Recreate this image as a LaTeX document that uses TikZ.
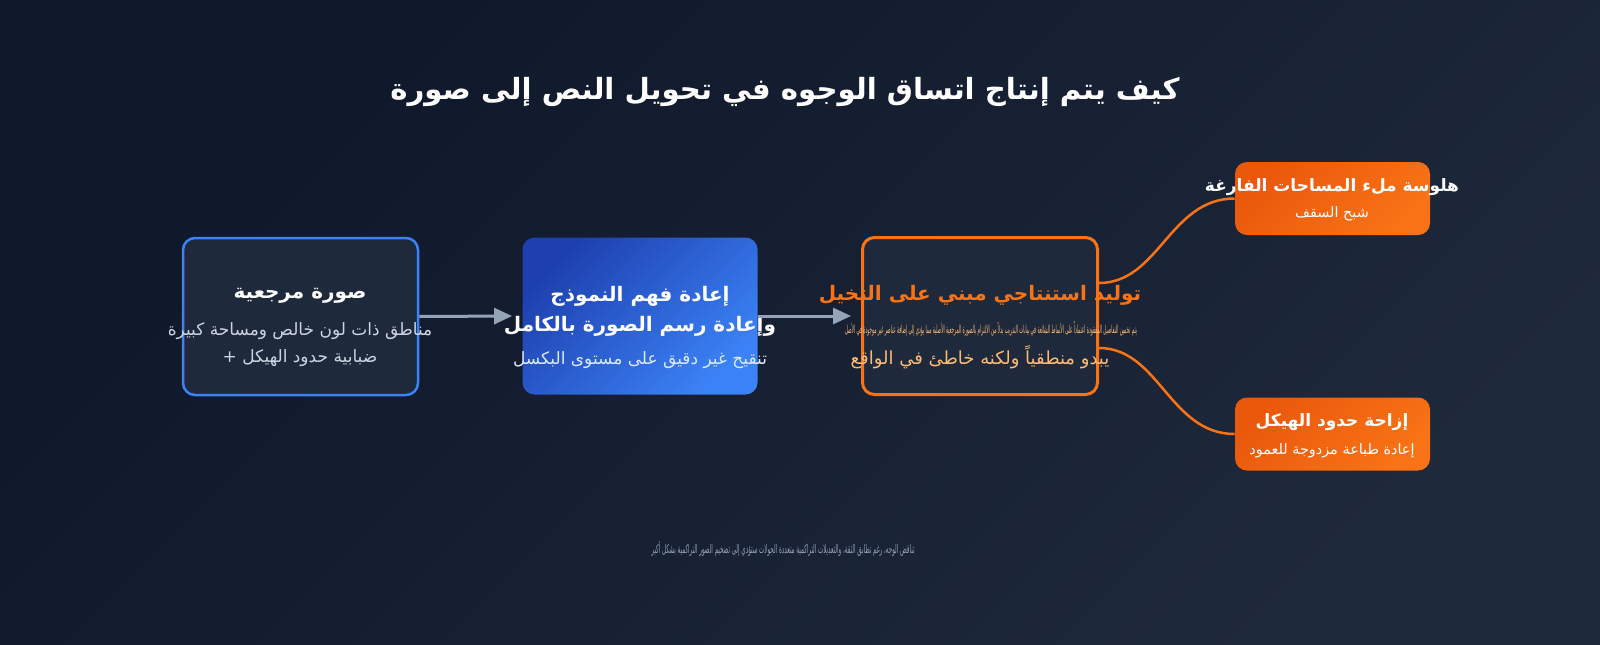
\documentclass[tikz,border=0pt]{standalone}
\usepackage{fontspec}
\setmainfont{DejaVu Sans}
\newfontfamily\arabicfont[Script=Arabic]{DejaVu Sans}
\TeXXeTstate=1
\usetikzlibrary{arrows.meta}
\definecolor{bgtop}{HTML}{0F172A}
\definecolor{bgbot}{HTML}{1E293B}
\definecolor{boxfill}{HTML}{1E293B}
\definecolor{refblue}{HTML}{3B82F6}
\definecolor{deepblue}{HTML}{1E40AF}
\definecolor{hotorange}{HTML}{F97316}
\definecolor{deeporange}{HTML}{EA580C}
\definecolor{arrowgrey}{HTML}{94A3B8}
\definecolor{subgrey}{HTML}{CBD5E1}
\definecolor{subblue}{HTML}{DBEAFE}
\definecolor{subtan}{HTML}{FDBA74}
\definecolor{footgrey}{HTML}{94A3B8}
\tikzset{
every node/.style={inner sep=0pt, text=white, font=\arabicfont},
stage/.style={rectangle, rounded corners=6pt, minimum width=117.5pt, minimum height=78.5pt},
side/.style={rectangle, rounded corners=6pt, minimum width=97.5pt, minimum height=36.5pt,
  top color=deeporange, bottom color=hotorange, shading angle=45},
head/.style={font=\arabicfont\bfseries\fontsize{14.6}{18}\selectfont},
boxtitle/.style={font=\arabicfont\bfseries\fontsize{10}{12}\selectfont},
boxsub/.style={font=\arabicfont\fontsize{8.5}{10}\selectfont},
sidetitle/.style={font=\arabicfont\bfseries\fontsize{8.5}{10}\selectfont},
sidesub/.style={font=\arabicfont\fontsize{7.2}{8.5}\selectfont},
flow/.style={draw=arrowgrey, line width=1.5pt, -{Triangle[length=9pt,width=8pt]}},
branch/.style={draw=hotorange, line width=1.25pt}
}
\begin{document}
\begin{tikzpicture}[x=0.5pt, y=-0.5pt]
\shade[top color=bgtop, bottom color=bgbot, shading angle=45] (0,0) rectangle (1600,644);
\useasboundingbox (0,0) rectangle (1600,644);

\node [head] (TITLE) at (785,92) {\beginR كيف يتم إنتاج اتساق الوجوه في تحويل النص إلى صورة\endR};

\node [stage, fill=boxfill, draw=refblue, line width=1.25pt] (REF) at (300.5,316.5) {};
\node [stage, top color=deepblue, bottom color=refblue, shading angle=45] (REDRAW) at (640,316) {};
\node [stage, fill=boxfill, draw=hotorange, line width=1.5pt] (IMAG) at (980,316) {};
\node [side] (HALL) at (1332.5,198.5) {};
\node [side] (SHIFT) at (1332.5,434) {};

\node [boxtitle] (REFT) at (300,296) {\beginR صورة مرجعية\endR};
\node [boxsub, text=subgrey] (REFA) at (300,331) {\beginR مناطق ذات لون خالص ومساحة كبيرة\endR};
\node [boxsub, text=subgrey] (REFB) at (300,358) {\beginR ضبابية حدود الهيكل +\endR};

\node [boxtitle] (REDT) at (640,296) {\beginR إعادة فهم النموذج\endR};
\node [boxtitle] (REDU) at (640,326) {\beginR وإعادة رسم الصورة بالكامل\endR};
\node [boxsub, text=subblue] (REDA) at (640,360) {\beginR تنقيح غير دقيق على مستوى البكسل\endR};

\node [boxtitle, text=hotorange] (IMGT) at (980,295) {\beginR توليد استنتاجي مبني على التخيل\endR};
\node [boxsub, text=subtan] (IMGA) at (991,329) {\resizebox{146pt}{\height}{\fontsize{5.5}{6}\selectfont\beginR يتم تخمين التفاصيل المفقودة اعتماداً على الأنماط الشائعة في بيانات التدريب بدلاً من الالتزام بالصورة المرجعية الأصلية مما يؤدي إلى إضافة عناصر غير موجودة في الأصل\endR}};
\node [boxsub, text=subtan, font=\arabicfont\fontsize{9}{10}\selectfont] (IMGB) at (980,357) {\beginR يبدو منطقياً ولكنه خاطئ في الواقع\endR};

\node [sidetitle] (HALLT) at (1332,187) {\beginR هلوسة ملء المساحات الفارغة\endR};
\node [sidesub] (HALLA) at (1332,214) {\beginR شبح السقف\endR};
\node [sidetitle] (SHIFTT) at (1332,422) {\beginR إزاحة حدود الهيكل\endR};
\node [sidesub] (SHIFTA) at (1332,451) {\beginR إعادة طباعة مزدوجة للعمود\endR};

\node [text=footgrey] (FOOT) at (783,549) {\resizebox{131.5pt}{\height}{\fontsize{6}{7}\selectfont\beginR تناقض الوجه، رغم تطابق الثقة، والتعديلات التراكمية متعددة الجولات ستؤدي إلى تضخيم الصور التراكمية بشكل أكبر\endR}};

\draw [flow] (REF.east) -- ([xshift=-5pt]REDRAW.west);
\draw [flow] (REDRAW.east) -- ([xshift=-5pt]IMAG.west);
\draw [branch] ([yshift=16.5pt]IMAG.east) .. controls +(60,0) and +(-65,0) .. (HALL.west);
\draw [branch] ([yshift=-16pt]IMAG.east) .. controls +(60,0) and +(-65,0) .. (SHIFT.west);
\end{tikzpicture}
\end{document}
